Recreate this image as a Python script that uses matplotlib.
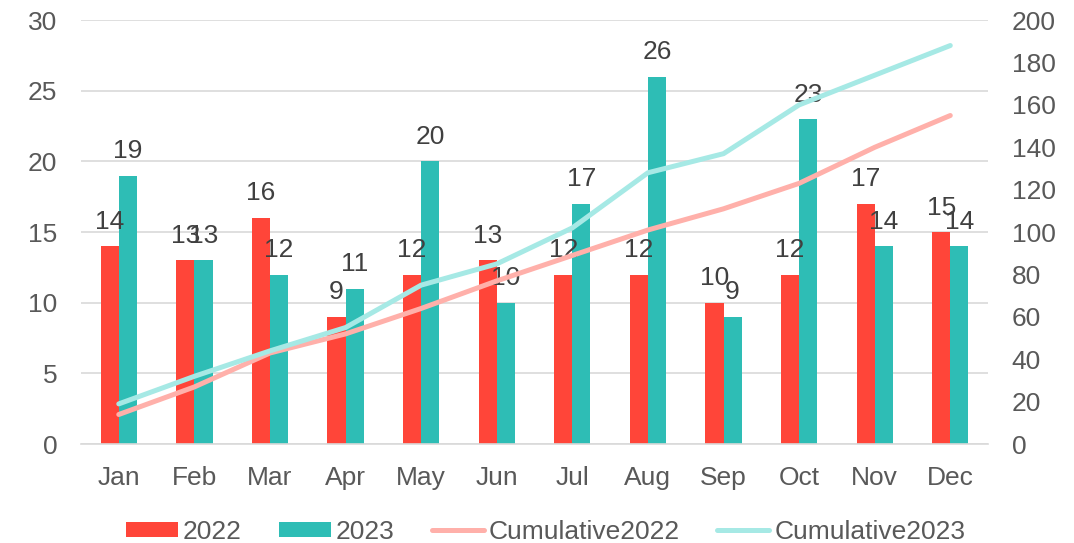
import numpy as np
import matplotlib.pyplot as plt

months = ["Jan", "Feb", "Mar", "Apr", "May", "Jun", "Jul", "Aug", "Sep", "Oct", "Nov", "Dec"]
sales_2022 = [14, 13, 16, 9, 12, 13, 12, 12, 10, 12, 17, 15]
sales_2023 = [19, 13, 12, 11, 20, 10, 17, 26, 9, 23, 14, 14]
cum_2022 = [14, 27, 43, 52, 64, 77, 89, 101, 111, 123, 140, 155]
cum_2023 = [19, 32, 44, 55, 75, 85, 102, 128, 137, 160, 174, 188]

RED = "#FF4539"
TEAL = "#2EBDB5"
LIGHT_RED = "#FFB0AA"
LIGHT_TEAL = "#A6E9E5"
TEXT = "#595959"
GRID = "#D9D9D9"
FS = 19

plt.rcParams["font.family"] = ["Liberation Sans", "DejaVu Sans"]

fig = plt.figure(figsize=(10.74, 5.43), dpi=100)
ax = fig.add_axes([0.0754, 0.182, 0.8446, 0.781])
ax2 = ax.twinx()

x = np.arange(len(months))
w = 0.24
b1 = ax.bar(x - w / 2, sales_2022, w, color=RED, label="2022", zorder=2)
b2 = ax.bar(x + w / 2, sales_2023, w, color=TEAL, label="2023", zorder=2)

# value labels above each bar
for bars in (b1, b2):
    for rect in bars:
        ax.annotate(f"{rect.get_height():g}",
                    (rect.get_x() + rect.get_width() / 2, rect.get_height()),
                    xytext=(0, 9), textcoords="offset points",
                    ha="center", va="bottom", fontsize=FS, color="#404040")

l1, = ax2.plot(x, cum_2022, color=LIGHT_RED, lw=3.6, solid_capstyle="round", label="Cumulative2022")
l2, = ax2.plot(x, cum_2023, color=LIGHT_TEAL, lw=3.6, solid_capstyle="round", label="Cumulative2023")

ax.set_xlim(-0.5, 11.5)
ax.set_ylim(0, 30)
ax.set_yticks(range(0, 31, 5))
ax2.set_ylim(0, 200)
ax2.set_yticks(range(0, 201, 20))
ax.set_xticks(x)
ax.set_xticklabels(months)

ax.yaxis.grid(True, color=GRID, lw=1.2, zorder=0)
ax.set_axisbelow(True)
for a in (ax, ax2):
    for s in a.spines.values():
        s.set_visible(False)
    a.tick_params(length=0, labelsize=FS, colors=TEXT)
ax.spines["bottom"].set_visible(True)
ax.spines["bottom"].set_color(GRID)
ax.spines["bottom"].set_linewidth(1.2)
ax.tick_params(axis="x", pad=16)
ax.tick_params(axis="y", pad=17)
ax2.tick_params(axis="y", pad=17)

fig.legend([b1, b2, l1, l2], ["2022", "2023", "Cumulative2022", "Cumulative2023"],
           loc="lower center", bbox_to_anchor=(0.508, -0.045), ncol=4, frameon=False,
           fontsize=FS, labelcolor=TEXT, handlelength=1.97, handletextpad=0.2,
           columnspacing=1.4, handleheight=0.53)

fig.savefig("out.png", dpi=100)
